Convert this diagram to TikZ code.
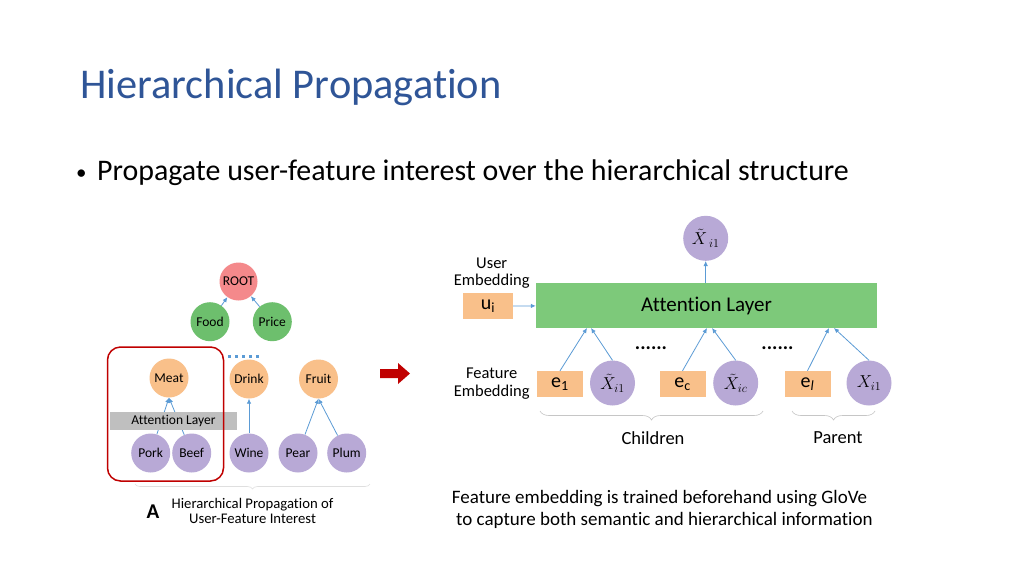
\documentclass[tikz,border=0pt]{standalone}
\usepackage{fontspec}
\setmainfont{Carlito}[Ligatures={NoCommon}]
\usetikzlibrary{arrows.meta,decorations.pathreplacing,calc}
\definecolor{titleblue}{HTML}{2F5597}
\definecolor{arrowblue}{HTML}{5B9BD5}
\definecolor{nodepink}{HTML}{F4898B}
\definecolor{nodegreen}{HTML}{6DBF6D}
\definecolor{nodeorange}{HTML}{F9C08A}
\definecolor{nodepurple}{HTML}{B8A9D6}
\definecolor{layergreen}{HTML}{7DC97A}
\definecolor{bargray}{HTML}{BFBFBF}
\definecolor{boxred}{HTML}{C00000}
\newcommand{\fs}[1]{\fontsize{#1}{#1}\selectfont}
\begin{document}
\begin{tikzpicture}[x=1pt,y=-1pt,
  tnode/.style={circle, minimum size=39pt, inner sep=0pt, font=\fs{13.5}},
  rnode/.style={circle, fill=nodepurple, minimum size=45pt, inner sep=0pt, font=\fs{18}},
  obox/.style={fill=nodeorange, minimum width=46pt, minimum height=26pt, inner sep=0pt, font=\fs{20}},
  arr/.style={-{Latex[length=5pt,width=4.5pt]}, arrowblue, line width=0.8pt},
  lbl/.style={align=center, inner sep=0pt},
  brc/.style={decorate, decoration={brace, amplitude=9pt}, gray!45, line width=0.6pt}
]
\useasboundingbox (0,0) rectangle (1024,576);
\fill[white] (0,0) rectangle (1024,576);

% title and bullet
\node[anchor=base west, inner sep=0pt, text=titleblue, font=\fs{42.4}] (title) at (80,98) {Hierarchical Propagation};
\node[anchor=base west, inner sep=0pt, font=\fs{21}] (bullet) at (76,179) {\textbullet};
\node[anchor=base west, inner sep=0pt, font=\fs{29.9}] (btext) at (97,180) {Propagate user-feature interest over the hierarchical structure};

% ---------- left tree ----------
\node[tnode, fill=nodepink, minimum size=38pt] (root) at (238.5,281.5) {ROOT};
\node[tnode, fill=nodegreen] (food) at (210,321.7) {Food};
\node[tnode, fill=nodegreen] (price) at (272.3,321.7) {Price};
\node[tnode, fill=nodeorange] (meat) at (169,378) {Meat};
\node[tnode, fill=nodeorange] (drink) at (249,379) {Drink};
\node[tnode, fill=nodeorange] (fruit) at (318.5,379) {Fruit};
\node[tnode, fill=nodepurple] (pork) at (150.7,453) {Pork};
\node[tnode, fill=nodepurple] (beef) at (191.7,453) {Beef};
\node[tnode, fill=nodepurple] (wine) at (249,453) {Wine};
\node[tnode, fill=nodepurple] (pear) at (298,453) {Pear};
\node[tnode, fill=nodepurple] (plum) at (346.7,453) {Plum};

\draw[arr] (food) -- (root);
\draw[arr] (price) -- (root);
\draw[arr] (pork) -- (meat.south);
\draw[arr] (beef) -- (meat.south);
\draw[arr] (wine) -- (drink);
\draw[arr] (pear) -- (fruit.south);
\draw[arr] (plum) -- (fruit.south);

\draw[arrowblue, line width=3pt, dash pattern=on 3pt off 4pt] (228,356) -- (262,356);

\node[fill=bargray, minimum width=127pt, minimum height=18.5pt, inner sep=0pt, font=\fs{13.5}] (lbar) at (173.5,420.8) {Attention Layer};

\draw[boxred, line width=1.5pt, rounded corners=13pt] (107.5,347) rectangle (223.5,481);

\draw[decorate, decoration={brace, amplitude=5pt}, gray!25, line width=0.6pt] (370,484) -- (135,484);

\node[inner sep=0pt, font=\bfseries\fs{21}] (capA) at (153,512) {A};
\node[lbl, font=\fs{14.7}] (cap) at (252.5,511) {Hierarchical Propagation of\\[0pt]User-Feature Interest};

% red arrow
\fill[boxred] (380,369) -- (398,369) -- (398,363) -- (410,373.5) -- (398,384) -- (398,378) -- (380,378) -- cycle;

% ---------- right diagram ----------
\node[lbl, font=\fs{16.5}] (ueml) at (491.7,273) {User\\[1pt]Embedding};
\node[obox, minimum width=50pt] (ui) at (488,306) {u\textsubscript{i}};
\node[fill=layergreen, minimum width=341pt, minimum height=45pt, inner sep=0pt, font=\fs{21}] (attn) at (706.5,305.5) {Attention Layer};
\node[rnode] (xout) at (705.7,238.3) {$\tilde{X}_{\;i1}$};

\draw[arr] (ui) -- (attn);
\draw[arr] (attn.north -| xout.south) -- (xout.south);

\node[lbl, font=\fs{16.5}] (feml) at (491.7,383.5) {Feature\\[1pt]Embedding};
\node[obox] (e1) at (560,384) {e\textsubscript{1}};
\node[rnode] (x1) at (612.5,383) {$\tilde{X}_{i1}$};
\node[inner sep=0pt, font=\bfseries\fs{20}] (dots1) at (651,348) {......};
\node[obox] (ec) at (682.5,384) {e\textsubscript{c}};
\node[rnode] (xc) at (735.7,383) {$\tilde{X}_{ic}$};
\node[inner sep=0pt, font=\bfseries\fs{20}] (dots2) at (777.5,348) {......};
\node[obox] (el) at (807.5,384) {e\textsubscript{\textit{l}}};
\node[rnode] (xp) at (869,383) {$X_{i1}$};

\coordinate (t1) at (587,328);
\coordinate (t2) at (591,328);
\coordinate (t3) at (707,328);
\coordinate (t4) at (712,328);
\coordinate (t5) at (829,328);
\coordinate (t6) at (834,328);
\draw[arr] (e1.north) -- (t1);
\draw[arr] (x1.north) -- (t2);
\draw[arr] (ec.north) -- (t3);
\draw[arr] (xc.north) -- (t4);
\draw[arr] (el.north) -- (t5);
\draw[arr] (xp.north) -- (t6);

\draw[brc] (763,411) -- (540,411);
\draw[brc] (875,411) -- (792,411);
\node[inner sep=0pt, font=\fs{18.5}] (child) at (653,437.7) {Children};
\node[inner sep=0pt, font=\fs{18.5}] (par) at (838,437.7) {Parent};

\node[anchor=base west, inner sep=0pt, font=\fs{19}] (note1) at (451.7,503.3) {Feature embedding is trained beforehand using GloVe};
\node[anchor=base west, inner sep=0pt, font=\fs{19}] (note2) at (456,525) {to capture both semantic and hierarchical information};
\end{tikzpicture}
\end{document}
